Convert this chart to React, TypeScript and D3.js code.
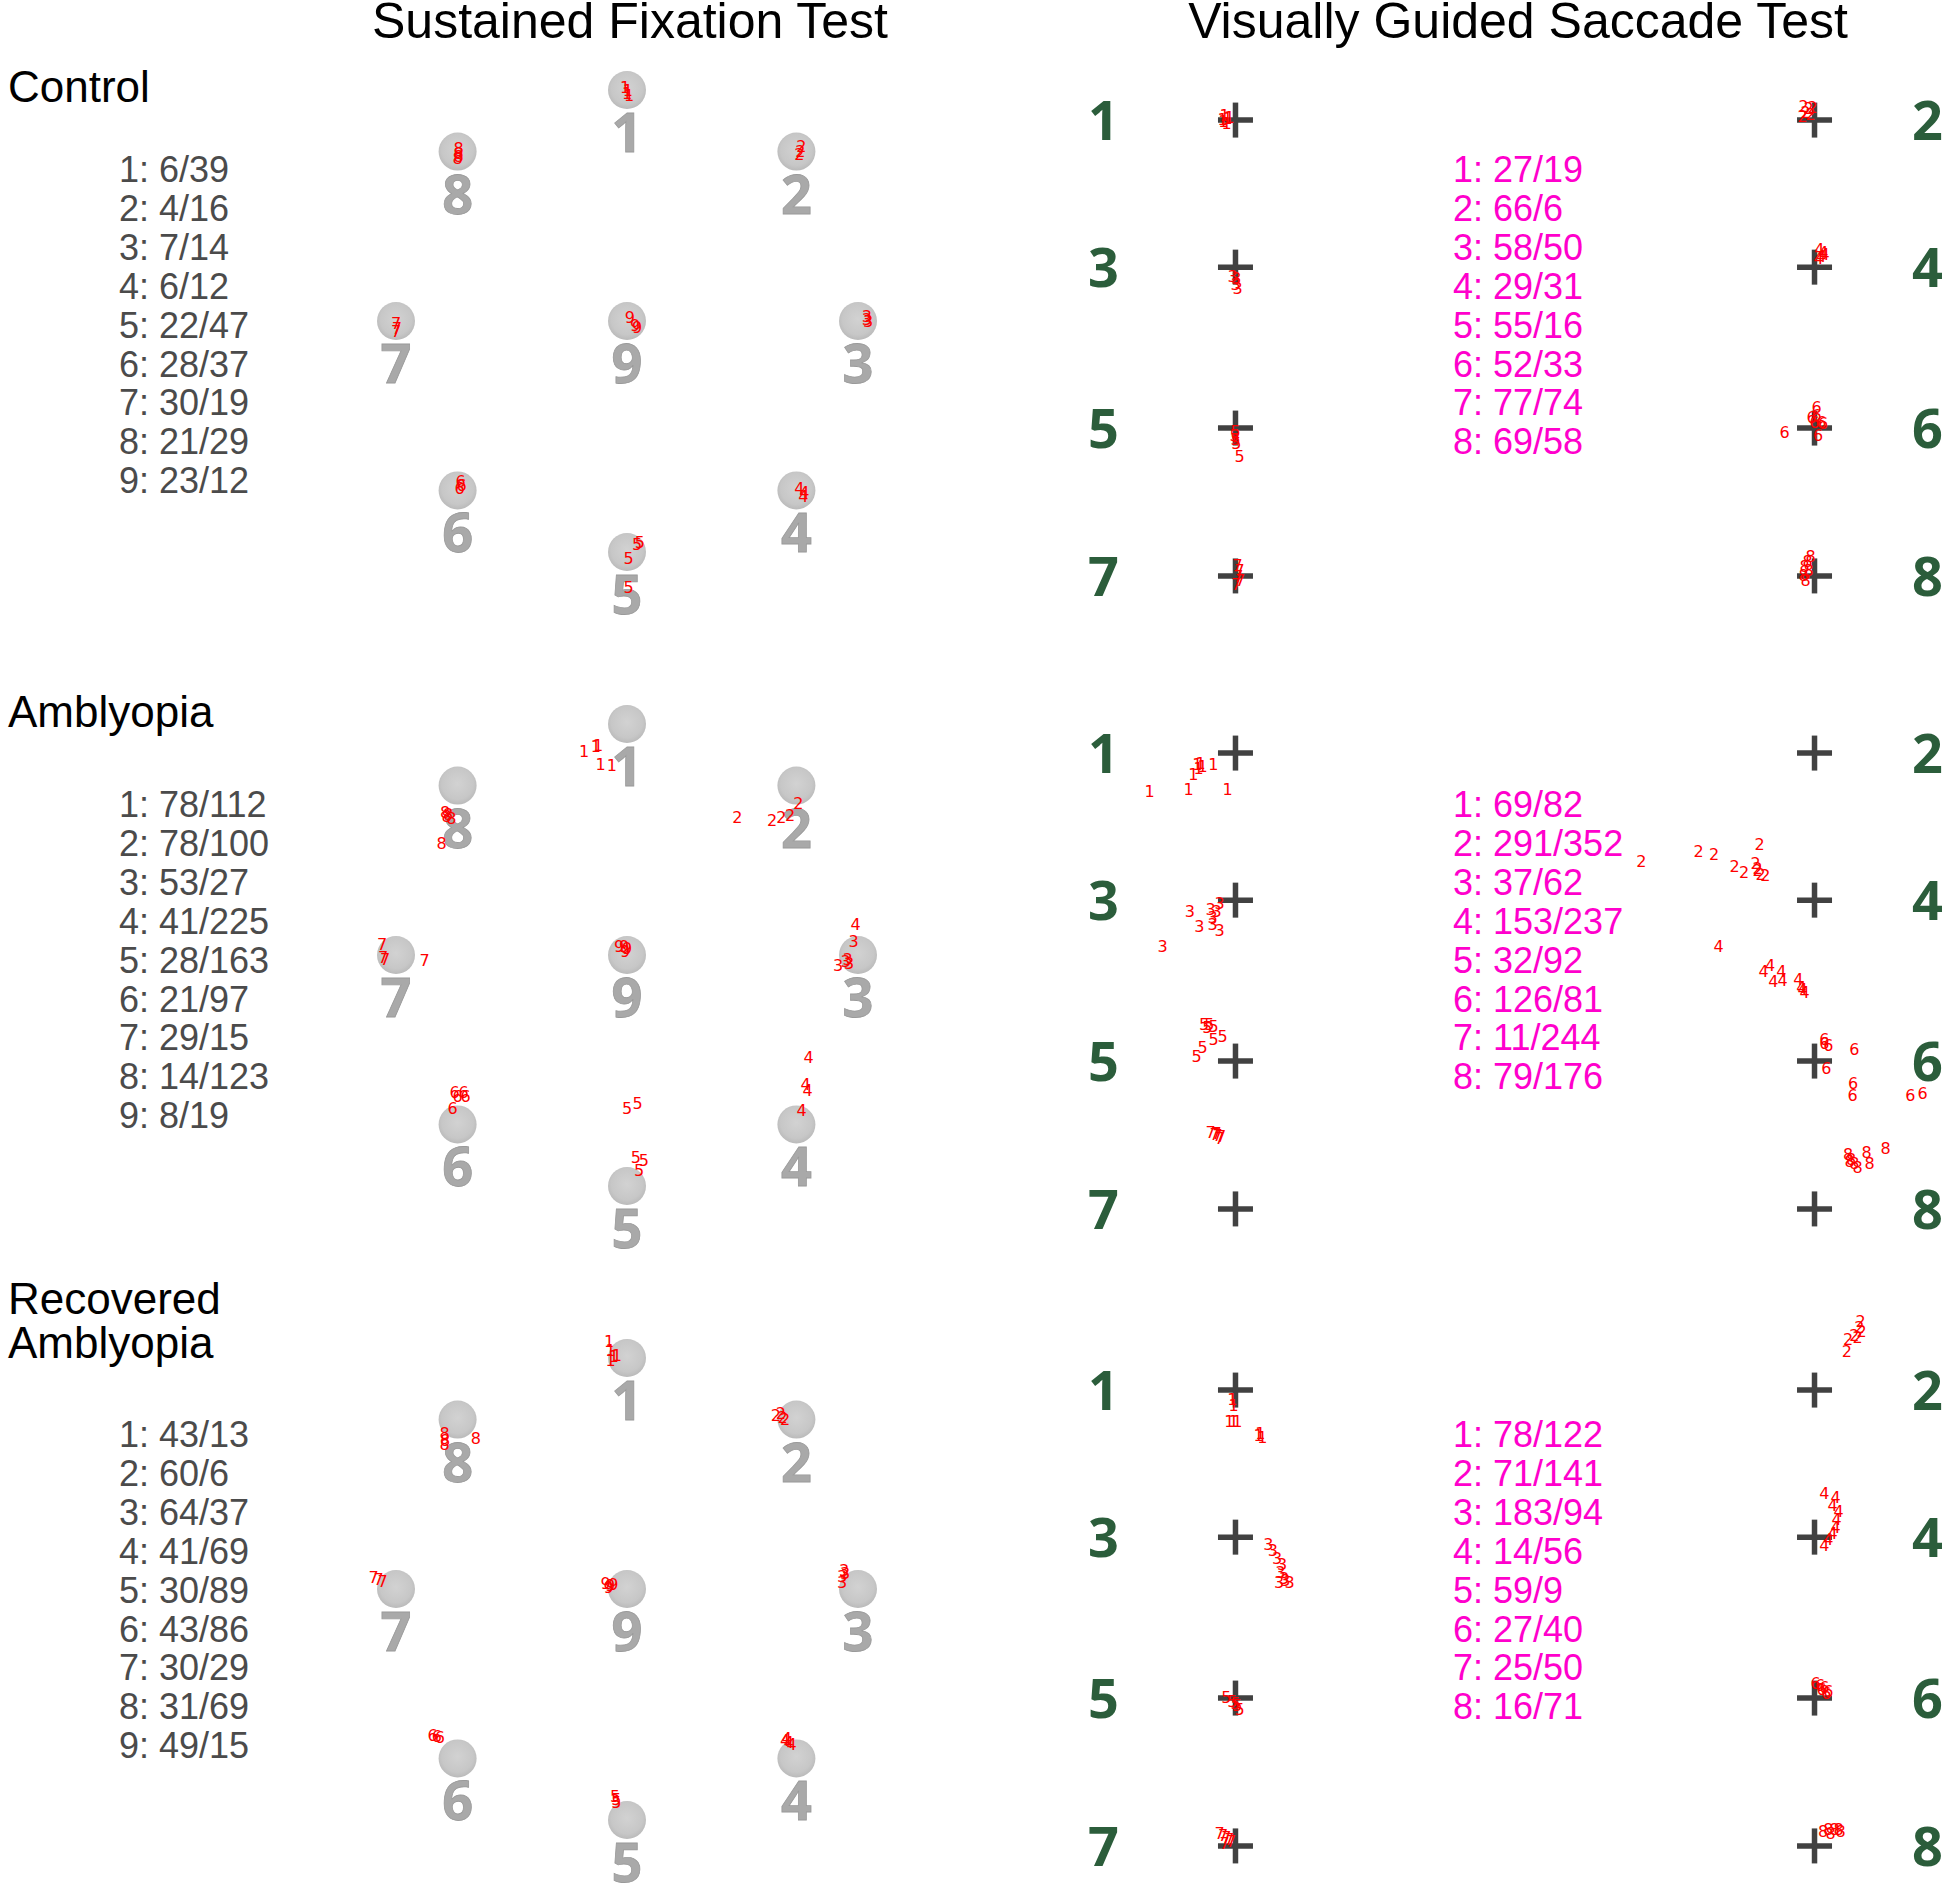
import React from "react";
import * as d3 from "d3";

// ---------------- DATA ----------------
const GROUP_NAMES: string[][] = [["Control"], ["Amblyopia"], ["Recovered", "Amblyopia"]];
const TITLES = ["Sustained Fixation Test", "Visually Guided Saccade Test"];

// target positions in degrees (x right, y up)
const FIX_TARGET_IDS = [1, 2, 3, 4, 5, 6, 7, 8, 9];
const FIX_TARGET_X = [0, 11, 15, 11, 0, -11, -15, -11, 0];
const FIX_TARGET_Y = [15, 11, 0, -11, -15, -11, 0, 11, 0];

const SAC_TARGET_IDS = [1, 2, 3, 4, 5, 6, 7, 8];
const SAC_TARGET_X = [-18.8, 18.8, -18.8, 18.8, -18.8, 18.8, -18.8, 18.8];
const SAC_TARGET_Y = [14.8, 14.8, 5.25, 5.25, -5.2, -5.2, -14.8, -14.8];

// per-target counts (text lists)
const FIX_STATS_CONTROL = ["6/39", "4/16", "7/14", "6/12", "22/47", "28/37", "30/19", "21/29", "23/12"];
const FIX_STATS_AMBLYOPIA = ["78/112", "78/100", "53/27", "41/225", "28/163", "21/97", "29/15", "14/123", "8/19"];
const FIX_STATS_RECOVERED = ["43/13", "60/6", "64/37", "41/69", "30/89", "43/86", "30/29", "31/69", "49/15"];
const SAC_STATS_CONTROL = ["27/19", "66/6", "58/50", "29/31", "55/16", "52/33", "77/74", "69/58"];
const SAC_STATS_AMBLYOPIA = ["69/82", "291/352", "37/62", "153/237", "32/92", "126/81", "11/244", "79/176"];
const SAC_STATS_RECOVERED = ["78/122", "71/141", "183/94", "14/56", "59/9", "27/40", "25/50", "16/71"];

// fixation marks: [target, dx, dy] in degrees relative to the target
type Mark = [number, number, number];
const FIX_MARKS_CONTROL: Mark[] = [
  [1, -0.13, 0.19], [1, 0.06, 0], [1, 0, -0.19], [1, 0.13, -0.32],
  [8, 0.06, 0.19], [8, 0.06, -0.13], [8, 0.06, -0.32], [8, 0, -0.45],
  [2, 0.32, 0.32], [2, 0.26, 0], [2, 0.19, -0.19],
  [7, 0, -0.13], [7, 0.06, -0.45], [7, 0, -0.65],
  [9, 0.19, 0.26], [9, 0.52, -0.26], [9, 0.65, -0.39],
  [3, 0.58, 0.32], [3, 0.58, 0.13], [3, 0.65, 0],
  [6, 0.19, 0.58], [6, 0.26, 0.32], [6, 0.13, 0.13],
  [4, 0.19, 0.13], [4, 0.52, -0.13], [4, 0.45, -0.39],
  [5, 0.65, 0.52], [5, 0.84, 0.65], [5, 0.1, -0.39], [5, 0.1, -2.27],
];
const FIX_MARKS_AMBLYOPIA: Mark[] = [
  [1, -2.79, -1.75], [1, -2.03, -1.43], [1, -1.71, -2.6], [1, -0.99, -2.66], [1, -1.88, -1.36],
  [8, -0.81, -1.72], [8, -0.61, -1.85], [8, -0.41, -2.11], [8, -0.71, -1.98], [8, -1.04, -3.73],
  [2, -3.84, -2.04], [2, -1.58, -2.23], [2, -0.97, -2.04], [2, -0.41, -1.91], [2, 0.12, -1.13],
  [7, -0.91, 0.69], [7, -0.84, -0.13], [7, -0.71, -0.29], [7, 1.85, -0.35],
  [9, -0.52, 0.56], [9, -0.19, 0.56], [9, 0, 0.43], [9, -0.13, 0.27],
  [3, -0.28, 0.88], [3, -1.3, -0.68], [3, -0.81, -0.42], [3, -0.58, -0.55], [3, -0.68, -0.29],
  [6, -0.19, 2.06], [6, 0.39, 2.06], [6, 0, 1.81], [6, 0.52, 1.81], [6, -0.32, 1.03],
  [5, 0, 5.06], [5, 0.69, 5.39], [5, 0.57, 1.88], [5, 1.1, 1.69], [5, 0.78, 1.04],
  [4, 0.79, 4.34], [4, 0.6, 2.58], [4, 0.73, 2.19], [4, 0.34, 0.9], [4, 3.84, 12.97],
];
const FIX_MARKS_RECOVERED: Mark[] = [
  [1, -1.17, 1.07], [1, -1.06, 0.53], [1, -0.86, 0.13], [1, -0.66, 0.18], [1, -1.06, -0.13],
  [8, -0.85, -0.91], [8, -0.82, -1.31], [8, -0.85, -1.57], [8, 1.18, -1.18],
  [2, -1.33, 0.31], [2, -1.01, 0.4], [2, -0.89, 0.13], [2, -0.73, 0],
  [7, -1.45, 0.75], [7, -1.13, 0.66], [7, -0.87, 0.53],
  [9, -1.39, 0.39], [9, -1.09, 0.26], [9, -0.89, 0.34], [9, -1.19, 0.13],
  [3, -0.9, 1.23], [3, -1.03, 0.86], [3, -1.03, 0.44], [3, -0.83, 1.05],
  [6, -1.62, 1.49], [6, -1.34, 1.44], [6, -1.15, 1.39],
  [4, -0.73, 1.18], [4, -0.49, 1.05], [4, -0.32, 0.92], [4, -0.62, 1.31],
  [5, -0.77, 1.56], [5, -0.69, 1.36], [5, -0.69, 1.18],
];

// saccade landing marks: [target, dx, dy] in degrees relative to the target
const SAC_MARKS_CONTROL: Mark[] = [
  [1, -0.71, 0.31], [1, -0.52, 0.11], [1, -0.78, -0.08], [1, -0.58, -0.21], [1, -0.39, 0.18], [1, -0.84, 0.05],
  [2, -0.71, 0.89], [2, -0.39, 0.76], [2, -0.13, 0.82], [2, -0.58, 0.5], [2, -0.26, 0.37], [2, -0.78, 0.24],
  [3, -0.19, -0.56], [3, 0.06, -0.75], [3, 0, -1.08], [3, 0.13, -1.34],
  [4, 0.32, 1.19], [4, 0.58, 1.0], [4, 0.45, 0.74], [4, 0.26, 0.55], [4, 0.65, 0.87],
  [5, 0, -0.19], [5, 0, -0.75], [5, 0.26, -1.82], [5, -0.06, -0.45], [5, 0.06, -0.97],
  [6, 0.13, 1.36], [6, -0.19, 0.71], [6, 0.13, 0.82], [6, 0.45, 0.39], [6, 0, 0.39], [6, 0.24, -0.47], [6, 0.56, 0.31], [6, -1.95, -0.26],
  [7, 0.13, 0.7], [7, 0.26, 0.38], [7, 0.19, -0.01], [7, 0.32, -0.27], [7, 0.06, -0.53],
  [8, -0.26, 1.29], [8, -0.45, 0.96], [8, -0.65, 0.64], [8, -0.39, 0.38], [8, -0.71, 0.05], [8, -0.58, -0.27],
];
const SAC_MARKS_AMBLYOPIA: Mark[] = [
  [1, -5.58, -2.49], [1, -3.05, -2.36], [1, -0.52, -2.36], [1, -2.73, -1.38], [1, -2.47, -0.73], [1, -2.27, -0.67], [1, -2.14, -0.86], [1, -1.43, -0.73], [1, -2.4, -0.99],
  [3, -2.97, -0.75], [3, -1.61, -0.61], [3, -1.22, -0.75], [3, -1.03, -0.19], [3, -1.48, -1.56], [3, -2.34, -1.69], [3, -1.03, -1.95], [3, -4.73, -2.99], [3, -1.48, -1.14],
  [5, -2.03, 2.4], [5, -1.7, 2.4], [5, -1.42, 2.27], [5, -1.82, 2.18], [5, -0.83, 1.64], [5, -1.42, 1.45], [5, -2.14, 0.92], [5, -2.52, 0.32],
  [7, -1.62, 4.98], [7, -1.35, 4.84], [7, -1.16, 4.77], [7, -0.93, 4.71], [7, -1.03, 4.58], [7, -1.22, 4.9],
  [2, -11.25, -7.03], [2, -7.53, -6.38], [2, -6.52, -6.58], [2, -3.56, -5.91], [2, -5.19, -7.32], [2, -4.57, -7.72], [2, -3.82, -7.16], [2, -3.69, -7.58], [2, -3.5, -7.85], [2, -3.2, -7.9], [2, -3.69, -7.45],
  [4, -6.23, -3.01], [4, -2.88, -4.21], [4, -3.31, -4.61], [4, -2.15, -4.61], [4, -2.68, -5.26], [4, -2.07, -5.19], [4, -1.05, -5.13], [4, -0.85, -5.65], [4, -0.65, -6.01], [4, -0.77, -5.78],
  [6, 0.64, 1.45], [6, 0.89, 1.06], [6, 0.77, -0.49], [6, 2.58, 0.79], [6, 2.51, -1.47], [6, 2.47, -2.19], [6, 6.23, -2.19], [6, 7.02, -2.08], [6, 0.64, 1.19],
  [8, 2.18, 3.54], [8, 2.38, 3.25], [8, 2.58, 2.98], [8, 2.8, 2.71], [8, 3.38, 3.67], [8, 3.58, 2.98], [8, 4.62, 3.97], [8, 2.27, 3.12],
];
const SAC_MARKS_RECOVERED: Mark[] = [
  [1, -0.2, -0.6], [1, -0.12, -0.99], [1, -0.4, -2.04], [1, -0.12, -2.04], [1, 0.12, -2.04], [1, 1.62, -2.82], [1, 1.74, -3.08], [1, 1.5, -2.95],
  [3, 2.14, -0.45], [3, 2.42, -0.84], [3, 2.71, -1.36], [3, 3.03, -1.75], [3, 2.92, -2.27], [3, 3.16, -2.66], [3, 2.83, -2.92], [3, 3.52, -2.92], [3, 3.23, -2.79],
  [5, -0.6, 0.06], [5, -0.2, -0.19], [5, 0.12, -0.45], [5, 0.27, -0.71], [5, 0, -0.32],
  [7, -1.03, 0.83], [7, -0.81, 0.7], [7, -0.6, 0.57], [7, -0.4, 0.44], [7, -0.29, 0.31], [7, -0.7, 0.18],
  [2, 2.1, 2.53], [2, 2.18, 3.31], [2, 2.58, 3.57], [2, 2.91, 4.1], [2, 3.06, 3.84], [2, 2.99, 4.49], [2, 2.8, 3.44],
  [4, 0.64, 2.82], [4, 1.37, 2.56], [4, 1.18, 2.05], [4, 1.56, 1.66], [4, 1.44, 1.14], [4, 1.37, 0.62], [4, 1.18, 0.23], [4, 0.89, -0.16], [4, 0.64, -0.55],
  [6, 0.07, 0.97], [6, 0.36, 0.84], [6, 0.64, 0.71], [6, 0.89, 0.45], [6, 0.46, 0.58], [6, 0.77, 0.32],
  [8, 0.56, 0.97], [8, 0.89, 1.1], [8, 1.29, 1.1], [8, 1.56, 1.1], [8, 1.05, 0.83], [8, 1.69, 0.97],
];

const FIX_STATS = [FIX_STATS_CONTROL, FIX_STATS_AMBLYOPIA, FIX_STATS_RECOVERED];
const SAC_STATS = [SAC_STATS_CONTROL, SAC_STATS_AMBLYOPIA, SAC_STATS_RECOVERED];
const FIX_MARKS = [FIX_MARKS_CONTROL, FIX_MARKS_AMBLYOPIA, FIX_MARKS_RECOVERED];
const SAC_MARKS = [SAC_MARKS_CONTROL, SAC_MARKS_AMBLYOPIA, SAC_MARKS_RECOVERED];

// ---------------- LAYOUT ----------------
const W = 1944;
const H = 1887;
const PX_PER_DEG = 15.4;
const FIX_CX = 627;
const FIX_CY = [321, 955, 1589];
const SAC_CX = 1525;
const SAC_CY = [348, 981, 1618];
const STAT_BASE = [182, 817, 1447];
const STAT_STEP = 38.9;
const LABEL_BASES = [[102], [727], [1314, 1358]];

const SANS = "'Liberation Sans', Arial, Helvetica, sans-serif";
const BOLD_DIGIT = "'Open Sans', 'Noto Sans', sans-serif";
const MARK_FONT = "'DejaVu Sans', sans-serif";

function scalesFor(cx: number, cy: number) {
  const half = 15 * PX_PER_DEG;
  const x = d3.scaleLinear().domain([-15, 15]).range([cx - half, cx + half]);
  const y = d3.scaleLinear().domain([-15, 15]).range([cy + half, cy - half]);
  return { x, y };
}

function FixPanel({ g }: { g: number }) {
  const { x, y } = scalesFor(FIX_CX, FIX_CY[g]);
  const tx = (id: number) => FIX_TARGET_X[FIX_TARGET_IDS.indexOf(id)];
  const ty = (id: number) => FIX_TARGET_Y[FIX_TARGET_IDS.indexOf(id)];
  return (
    <g>
      {FIX_TARGET_IDS.map((id, i) => (
        <g key={"t" + id}>
          <circle cx={x(FIX_TARGET_X[i])} cy={y(FIX_TARGET_Y[i])} r={19} fill="url(#dotGrad)" />
          <text
            x={x(FIX_TARGET_X[i])}
            y={y(FIX_TARGET_Y[i]) + 62}
            textAnchor="middle"
            fontFamily={BOLD_DIGIT}
            fontWeight={700}
            fontSize={54}
            fill="#a9a9a9"
            stroke="#9a9a9a"
            strokeWidth={0.8}
          >
            {id}
          </text>
        </g>
      ))}
      {FIX_MARKS[g].map((m, i) => (
        <text
          key={"m" + i}
          x={x(tx(m[0]) + m[1])}
          y={y(ty(m[0]) + m[2])}
          dy="0.36em"
          textAnchor="middle"
          fontFamily={MARK_FONT}
          fontSize={16}
          fill="#ff0000"
        >
          {m[0]}
        </text>
      ))}
    </g>
  );
}

function SacPanel({ g }: { g: number }) {
  const { x, y } = scalesFor(SAC_CX, SAC_CY[g]);
  const tx = (id: number) => SAC_TARGET_X[SAC_TARGET_IDS.indexOf(id)];
  const ty = (id: number) => SAC_TARGET_Y[SAC_TARGET_IDS.indexOf(id)];
  const arm = 17.5;
  return (
    <g>
      {SAC_TARGET_IDS.map((id, i) => {
        const px = x(SAC_TARGET_X[i]);
        const py = y(SAC_TARGET_Y[i]);
        const left = SAC_TARGET_X[i] < 0;
        return (
          <g key={"t" + id}>
            <line x1={px - arm} x2={px + arm} y1={py} y2={py} stroke="#414141" strokeWidth={5.5} />
            <line x1={px} x2={px} y1={py - arm} y2={py + arm} stroke="#414141" strokeWidth={5.5} />
            <text
              x={left ? px - 132 : px + 113}
              y={py + 20}
              textAnchor="middle"
              fontFamily={BOLD_DIGIT}
              fontWeight={700}
              fontSize={54}
              fill="#2b5d3b"
            >
              {id}
            </text>
          </g>
        );
      })}
      {SAC_MARKS[g].map((m, i) => (
        <text
          key={"m" + i}
          x={x(tx(m[0]) + m[1])}
          y={y(ty(m[0]) + m[2])}
          dy="0.36em"
          textAnchor="middle"
          fontFamily={MARK_FONT}
          fontSize={16}
          fill="#ff0000"
        >
          {m[0]}
        </text>
      ))}
    </g>
  );
}

export default function App() {
  return (
    <svg
      width={W}
      height={H}
      viewBox={`0 0 ${W} ${H}`}
      style={{ position: "absolute", left: 0, top: 0, background: "#ffffff" }}
    >
      <defs>
        <radialGradient id="dotGrad" cx="50%" cy="45%" r="55%">
          <stop offset="0%" stopColor="#d2d2d2" />
          <stop offset="75%" stopColor="#c7c7c7" />
          <stop offset="100%" stopColor="#bababa" />
        </radialGradient>
      </defs>
      <rect x={0} y={0} width={W} height={H} fill="#ffffff" />
      <text x={630} y={38} textAnchor="middle" fontFamily={SANS} fontSize={50} fill="#000">
        {TITLES[0]}
      </text>
      <text x={1518} y={38} textAnchor="middle" fontFamily={SANS} fontSize={50} fill="#000">
        {TITLES[1]}
      </text>
      {GROUP_NAMES.map((lines, g) => (
        <g key={"g" + g}>
          {lines.map((ln, k) => (
            <text key={k} x={8} y={LABEL_BASES[g][k]} fontFamily={SANS} fontSize={44} fill="#000">
              {ln}
            </text>
          ))}
          {FIX_STATS[g].map((s, i) => (
            <text
              key={"fs" + i}
              x={119}
              y={STAT_BASE[g] + i * STAT_STEP}
              fontFamily={SANS}
              fontSize={36}
              fill="#4b4b4b"
            >
              {`${FIX_TARGET_IDS[i]}: ${s}`}
            </text>
          ))}
          {SAC_STATS[g].map((s, i) => (
            <text
              key={"ss" + i}
              x={1453}
              y={STAT_BASE[g] + i * STAT_STEP}
              fontFamily={SANS}
              fontSize={36}
              fill="#ff00cc"
            >
              {`${SAC_TARGET_IDS[i]}: ${s}`}
            </text>
          ))}
          <FixPanel g={g} />
          <SacPanel g={g} />
        </g>
      ))}
    </svg>
  );
}
